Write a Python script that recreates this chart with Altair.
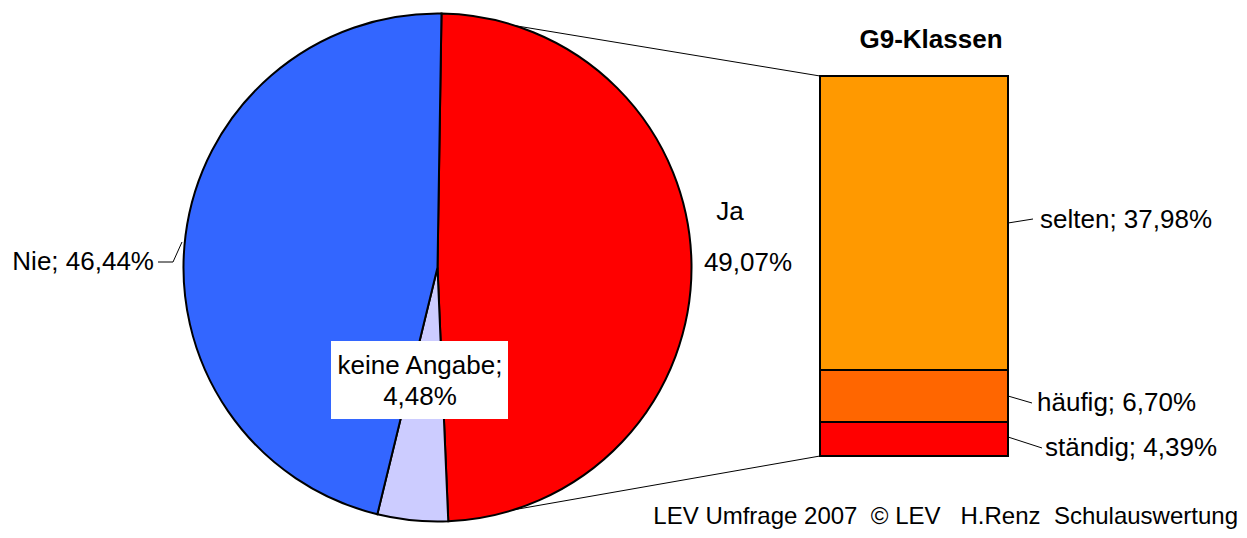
import altair as alt
import pandas as pd
import numpy as np

# ---- data ----
pie_labels = ["Ja", "keine Angabe", "Nie"]
pie_values = [49.07, 4.48, 46.44]
pie_colors = ["#FF0000", "#CCCCFF", "#3366FF"]

bar_labels = ["ständig", "häufig", "selten"]
bar_values = [4.39, 6.70, 37.98]
bar_colors = ["#FF0000", "#FF6600", "#FF9900"]

bar_title = "G9-Klassen"
footer = "LEV Umfrage 2007\u00a0\u00a0© LEV\u00a0\u00a0\u00a0H.Renz\u00a0\u00a0Schulauswertung"

def pct(v):
    return f"{v:.2f}".replace(".", ",") + "%"

FONT = "Liberation Sans"
FS = 26

W, H = 1231, 522
cx, cy, R = 429.5, 259.5, 254
start = np.deg2rad(0.9)

pie_df = pd.DataFrame({"cat": pie_labels, "value": pie_values, "idx": range(len(pie_labels))})

pie = alt.Chart(pie_df).mark_arc(outerRadius=R, stroke="black", strokeWidth=2).encode(
    theta=alt.Theta("value:Q", stack=True, scale=alt.Scale(range=[start, start + 2 * np.pi])),
    color=alt.Color("cat:N", scale=alt.Scale(domain=pie_labels, range=pie_colors), legend=None),
    order=alt.Order("idx:Q"),
    x=alt.value(cx), y=alt.value(cy),
)

# stacked bar of the Ja share
cum = np.cumsum([0] + bar_values)
bar_df = pd.DataFrame({"cat": bar_labels, "y0": cum[:-1], "y1": cum[1:]})
total = float(cum[-1])
yscale = alt.Scale(domain=[0, total], range=[448, 68])
bar = alt.Chart(bar_df).mark_bar(stroke="black", strokeWidth=2).encode(
    x=alt.value(812), x2=alt.value(1000),
    y=alt.Y("y0:Q", scale=yscale, axis=None), y2="y1:Q",
    color=alt.Color("cat:N", scale=alt.Scale(domain=bar_labels, range=bar_colors), legend=None),
)

# connector lines from Ja slice edges to bar
tot_pie = sum(pie_values)
a0 = start
a1 = start + 2 * np.pi * pie_values[0] / tot_pie
p0 = (cx + R * np.sin(a0), cy - R * np.cos(a0))
p1 = (cx + R * np.sin(a1), cy - R * np.cos(a1))

def rule(x1, y1, x2, y2):
    return alt.Chart(pd.DataFrame({"a": [0]})).mark_rule(color="black", strokeWidth=1).encode(
        x=alt.value(x1), y=alt.value(y1), x2=alt.value(x2), y2=alt.value(y2))

conn = alt.layer(rule(p0[0], p0[1], 812, 68), rule(p1[0], p1[1], 812, 448))

def txt(s, x, y, align="left", size=FS, bold=False, baseline="middle"):
    return alt.Chart(pd.DataFrame({"t": [s]})).mark_text(
        align=align, baseline=baseline, font=FONT, fontSize=size,
        fontWeight="bold" if bold else "normal", color="black").encode(
        text="t:N", x=alt.value(x), y=alt.value(y))

box = alt.Chart(pd.DataFrame({"a": [0]})).mark_rect(fill="white").encode(
    x=alt.value(323), x2=alt.value(500), y=alt.value(333), y2=alt.value(411))

labels = [
    txt(pie_labels[0], 722, 204, "center"),
    txt(pct(pie_values[0]), 740, 255, "center"),
    txt(f"{pie_labels[2]}; {pct(pie_values[2])}", 146, 254, "right"),
    rule(150, 254, 165, 254), rule(165, 254, 174, 234),
    box,
    txt(f"{pie_labels[1]};", 412, 358, "center"),
    txt(pct(pie_values[1]), 412, 389, "center"),
    txt(bar_title, 923, 32, "center", size=26, bold=True),
    txt(f"{bar_labels[2]}; {pct(bar_values[2])}", 1032, 212),
    rule(1000, 215, 1025, 211),
    txt(f"{bar_labels[1]}; {pct(bar_values[1])}", 1029, 395),
    rule(1000, 388, 1024, 395),
    txt(f"{bar_labels[0]}; {pct(bar_values[0])}", 1037, 440),
    rule(1000, 429, 1034, 440),
    txt(footer, 1230, 516, "right", size=24, baseline="alphabetic"),
]

chart = alt.layer(conn, pie, bar, *labels).resolve_scale(
    color="independent", y="independent", x="independent", theta="independent"
).properties(
    width=W, height=H, padding=0, autosize=alt.AutoSizeParams(type="none"),
    background="white"
).configure_view(stroke=None)

chart.save("out.html", embed_options={"renderer": "svg", "actions": False})
